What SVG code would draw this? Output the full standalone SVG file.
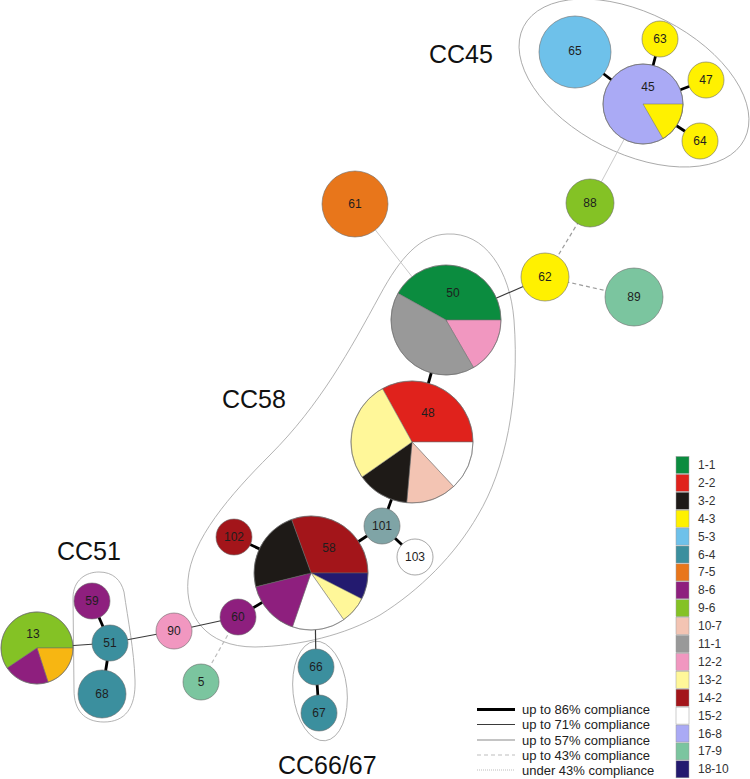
<svg xmlns="http://www.w3.org/2000/svg" width="750" height="779" viewBox="0 0 750 779">
<style>
text{font-family:"Liberation Sans",Arial,sans-serif;fill:#1e1e1e}
.lbl{font-size:12px;text-anchor:middle;dominant-baseline:central}
.cc{font-size:25px;fill:#111}
.leg{font-size:12px;fill:#333;dominant-baseline:central}
.cl{font-size:13px;fill:#222;dominant-baseline:central}
.n{stroke:#6b6b6b;stroke-width:0.6}
.sl{stroke:#6b6b6b;stroke-width:0.5}
.ring{fill:none;stroke:#6b6b6b;stroke-width:0.6}
.hull{fill:none;stroke:#a0a0a0;stroke-width:0.8}
.e86{stroke:#000;stroke-width:2.8;fill:none}
.e71{stroke:#3a3a3a;stroke-width:1.2;fill:none}
.e57{stroke:#8a8a8a;stroke-width:1.2;fill:none}
.e43{stroke:#9c9c9c;stroke-width:1.2;stroke-dasharray:4 3;fill:none}
.e43l{stroke:#bdbdbd;stroke-width:1.2;stroke-dasharray:4 3;fill:none}
.eu{stroke:#c9c9c9;stroke-width:1;fill:none}
.eud{stroke:#bdbdbd;stroke-width:1;stroke-dasharray:1 1;fill:none}
.box{stroke:#9a9a9a;stroke-width:0.5}
</style>

<g id="hulls">
<ellipse class="hull" cx="634" cy="83" rx="124" ry="70" transform="rotate(27 634 83)"/>
<path class="hull" d="M447,234 C485,232 510,270 514,320 C520,400 505,470 478,515 C455,555 420,590 380,615 C345,635 300,646 255,647 C205,647 185,615 188,580 C191,540 230,495 270,455 C320,405 350,350 380,295 C400,258 420,235 447,234 Z"/>
<path class="hull" d="M73,598 C73,580 86,572 99,572 C113,572 121,580 124,592 C128,620 134,650 135,680 C136,708 125,722 104,722 C84,722 74,710 74,690 L73,598 Z"/>
<ellipse class="hull" cx="320" cy="691" rx="27" ry="50" transform="rotate(-6 320 691)"/>
</g>

<g id="cc-labels">
<text class="cc" x="429" y="63">CC45</text>
<text class="cc" x="222" y="408">CC58</text>
<text class="cc" x="57" y="560">CC51</text>
<text class="cc" x="278" y="774">CC66/67</text>
</g>

<g id="connectors">
<line class="e86" x1="575" y1="52" x2="643" y2="104"/>
<line class="e86" x1="660" y1="39" x2="643" y2="104"/>
<line class="e86" x1="706" y1="80" x2="643" y2="104"/>
<line class="e86" x1="700" y1="141" x2="643" y2="104"/>
<line class="eu" x1="643" y1="104" x2="590" y2="203"/>
<line class="e43" x1="590" y1="203" x2="545" y2="277"/>
<line class="e43" x1="545" y1="277" x2="634" y2="297"/>
<line class="e71" x1="545" y1="277" x2="446" y2="320"/>
<line class="eu" x1="355" y1="204" x2="446" y2="320"/>
<line class="e86" x1="446" y1="320" x2="412" y2="442"/>
<line class="e86" x1="412" y1="442" x2="382" y2="526"/>
<line class="e86" x1="382" y1="526" x2="311" y2="573"/>
<line class="e86" x1="382" y1="526" x2="415" y2="557"/>
<line class="e86" x1="234" y1="537" x2="311" y2="573"/>
<line class="e86" x1="238" y1="617" x2="311" y2="573"/>
<line class="e71" x1="174" y1="631" x2="238" y2="617"/>
<line class="e43l" x1="238" y1="617" x2="201" y2="682"/>
<line class="e71" x1="315" y1="600" x2="316" y2="667"/>
<line class="e86" x1="316" y1="667" x2="319" y2="713"/>
<line class="e71" x1="110" y1="643" x2="174" y2="631"/>
<line class="e71" x1="37" y1="648" x2="110" y2="643"/>
<line class="e86" x1="92" y1="601" x2="110" y2="643"/>
<line class="e86" x1="110" y1="643" x2="102" y2="694"/>
</g>

<g id="node-65"><circle class="n" cx="575" cy="52" r="36" fill="#6EC1EA"/><text class="lbl" x="575" y="51">65</text></g>
<g id="node-45">
<circle class="n" cx="643" cy="104" r="40" fill="#AAAAF5"/>
<path class="sl" d="M643,104 L683,104 A40,40 0 0 1 663,138.64 Z" fill="#FFF100"/>
<circle class="ring" cx="643" cy="104" r="40"/>
<text class="lbl" x="648" y="87">45</text>
</g>
<g id="node-63"><circle class="n" cx="660" cy="39" r="18" fill="#FFF100"/><text class="lbl" x="660" y="39">63</text></g>
<g id="node-47"><circle class="n" cx="706" cy="80" r="18" fill="#FFF100"/><text class="lbl" x="706" y="80">47</text></g>
<g id="node-64"><circle class="n" cx="700" cy="141" r="18" fill="#FFF100"/><text class="lbl" x="700" y="141">64</text></g>
<g id="node-88"><circle class="n" cx="590" cy="203" r="24" fill="#84C225"/><text class="lbl" x="590" y="203">88</text></g>
<g id="node-62"><circle class="n" cx="545" cy="277" r="24" fill="#FFF100"/><text class="lbl" x="545" y="277">62</text></g>
<g id="node-89"><circle class="n" cx="634" cy="297" r="29" fill="#7BC59F"/><text class="lbl" x="634" y="297">89</text></g>
<g id="node-61"><circle class="n" cx="355" cy="204" r="33" fill="#E8761B"/><text class="lbl" x="355" y="204">61</text></g>

<g id="node-50">
<path class="sl" d="M446,320 L397.9,293.3 A55,55 0 0 1 501,320 Z" fill="#0B8C3F"/>
<path class="sl" d="M446,320 L501,320 A55,55 0 0 1 473.5,367.6 Z" fill="#F197C0"/>
<path class="sl" d="M446,320 L473.5,367.6 A55,55 0 0 1 397.9,293.3 Z" fill="#999999"/>
<circle class="ring" cx="446" cy="320" r="55"/>
<text class="lbl" x="453" y="293">50</text>
</g>

<g id="node-48">
<path class="sl" d="M412,442 L382.4,388.6 A61,61 0 0 1 473,442 Z" fill="#E0221C"/>
<path class="sl" d="M412,442 L473,442 A61,61 0 0 1 453.6,486.6 Z" fill="#FFFFFF"/>
<path class="sl" d="M412,442 L453.6,486.6 A61,61 0 0 1 406.7,502.8 Z" fill="#F3C4B3"/>
<path class="sl" d="M412,442 L406.7,502.8 A61,61 0 0 1 362,477 Z" fill="#1E1A17"/>
<path class="sl" d="M412,442 L362,477 A61,61 0 0 1 382.4,388.6 Z" fill="#FFF799"/>
<circle class="ring" cx="412" cy="442" r="61"/>
<text class="lbl" x="428" y="413">48</text>
</g>

<g id="node-101"><circle class="n" cx="382" cy="526" r="18" fill="#7FA4A6"/><text class="lbl" x="382" y="526">101</text></g>
<g id="node-103"><circle class="n" cx="415" cy="557" r="18" fill="#FFFFFF"/><text class="lbl" x="415" y="557">103</text></g>
<g id="node-102"><circle class="n" cx="234" cy="537" r="18" fill="#A3151A"/><text class="lbl" x="234" y="537">102</text></g>

<g id="node-58">
<path class="sl" d="M311,573 L291.5,519.4 A57,57 0 0 1 368,573 Z" fill="#A3151A"/>
<path class="sl" d="M311,573 L368,573 A57,57 0 0 1 361.8,598.9 Z" fill="#231A6F"/>
<path class="sl" d="M311,573 L361.8,598.9 A57,57 0 0 1 343.7,619.7 Z" fill="#FFF799"/>
<path class="sl" d="M311,573 L343.7,619.7 A57,57 0 0 1 292.4,626.9 Z" fill="#FFFFFF"/>
<path class="sl" d="M311,573 L292.4,626.9 A57,57 0 0 1 255.7,586.8 Z" fill="#8E1F7E"/>
<path class="sl" d="M311,573 L255.7,586.8 A57,57 0 0 1 291.5,519.4 Z" fill="#1E1A17"/>
<circle class="ring" cx="311" cy="573" r="57"/>
<text class="lbl" x="329" y="548">58</text>
</g>

<g id="node-60"><circle class="n" cx="238" cy="617" r="18" fill="#8E1F7E"/><text class="lbl" x="238" y="617">60</text></g>
<g id="node-90"><circle class="n" cx="174" cy="631" r="18" fill="#F197C0"/><text class="lbl" x="174" y="631">90</text></g>
<g id="node-5"><circle class="n" cx="201" cy="682" r="18" fill="#7BC59F"/><text class="lbl" x="201" y="682">5</text></g>
<g id="node-66"><circle class="n" cx="316" cy="667" r="18" fill="#3B8F9E"/><text class="lbl" x="316" y="667">66</text></g>
<g id="node-67"><circle class="n" cx="319" cy="713" r="18" fill="#3B8F9E"/><text class="lbl" x="319" y="713">67</text></g>
<g id="node-59"><circle class="n" cx="92" cy="601" r="18" fill="#8E1F7E"/><text class="lbl" x="92" y="601">59</text></g>
<g id="node-51"><circle class="n" cx="110" cy="643" r="18" fill="#3B8F9E"/><text class="lbl" x="110" y="643">51</text></g>
<g id="node-68"><circle class="n" cx="102" cy="694" r="24" fill="#3B8F9E"/><text class="lbl" x="102" y="694">68</text></g>

<g id="node-13">
<path class="sl" d="M37,648 L7.2,668.1 A36,36 0 1 1 73,648 Z" fill="#84C225"/>
<path class="sl" d="M37,648 L73,648 A36,36 0 0 1 48.1,682.2 Z" fill="#F7B612"/>
<path class="sl" d="M37,648 L48.1,682.2 A36,36 0 0 1 7.2,668.1 Z" fill="#8E1F7E"/>
<circle class="ring" cx="37" cy="648" r="36"/>
<text class="lbl" x="33" y="634">13</text>
</g>

<g id="legend-colors">
<rect class="box" x="676" y="456.5" width="13" height="17" fill="#0B8C3F"/><text class="leg" x="698" y="465">1-1</text>
<rect class="box" x="676" y="474.4" width="13" height="17" fill="#E0221C"/><text class="leg" x="698" y="482.9">2-2</text>
<rect class="box" x="676" y="492.3" width="13" height="17" fill="#1E1A17"/><text class="leg" x="698" y="500.8">3-2</text>
<rect class="box" x="676" y="510.2" width="13" height="17" fill="#FFF100"/><text class="leg" x="698" y="518.7">4-3</text>
<rect class="box" x="676" y="528.1" width="13" height="17" fill="#6EC1EA"/><text class="leg" x="698" y="536.6">5-3</text>
<rect class="box" x="676" y="546" width="13" height="17" fill="#3B8F9E"/><text class="leg" x="698" y="554.5">6-4</text>
<rect class="box" x="676" y="563.9" width="13" height="17" fill="#E8761B"/><text class="leg" x="698" y="572.4">7-5</text>
<rect class="box" x="676" y="581.8" width="13" height="17" fill="#8E1F7E"/><text class="leg" x="698" y="590.3">8-6</text>
<rect class="box" x="676" y="599.7" width="13" height="17" fill="#84C225"/><text class="leg" x="698" y="608.2">9-6</text>
<rect class="box" x="676" y="617.6" width="13" height="17" fill="#F3C4B3"/><text class="leg" x="698" y="626.1">10-7</text>
<rect class="box" x="676" y="635.5" width="13" height="17" fill="#999999"/><text class="leg" x="698" y="644">11-1</text>
<rect class="box" x="676" y="653.4" width="13" height="17" fill="#F197C0"/><text class="leg" x="698" y="661.9">12-2</text>
<rect class="box" x="676" y="671.3" width="13" height="17" fill="#FFF799"/><text class="leg" x="698" y="679.8">13-2</text>
<rect class="box" x="676" y="689.2" width="13" height="17" fill="#A3151A"/><text class="leg" x="698" y="697.7">14-2</text>
<rect class="box" x="676" y="707.1" width="13" height="17" fill="#FFFFFF"/><text class="leg" x="698" y="715.6">15-2</text>
<rect class="box" x="676" y="725" width="13" height="17" fill="#AAAAF5"/><text class="leg" x="698" y="733.5">16-8</text>
<rect class="box" x="676" y="742.9" width="13" height="17" fill="#7BC59F"/><text class="leg" x="698" y="751.4">17-9</text>
<rect class="box" x="676" y="760.8" width="13" height="17" fill="#231A6F"/><text class="leg" x="698" y="769.3">18-10</text>
</g>

<g id="legend-lines">
<line class="e86" x1="477" y1="709.5" x2="515" y2="709.5" stroke-width="2"/><text class="cl" x="522" y="709">up to 86% compliance</text>
<line class="e71" x1="477" y1="724.5" x2="515" y2="724.5"/><text class="cl" x="522" y="724">up to 71% compliance</text>
<line class="e57" x1="477" y1="740" x2="515" y2="740"/><text class="cl" x="522" y="740">up to 57% compliance</text>
<line class="e43l" x1="477" y1="755" x2="515" y2="755" stroke="#c9c9c9"/><text class="cl" x="522" y="755">up to 43% compliance</text>
<line class="eud" x1="477" y1="770" x2="515" y2="770"/><text class="cl" x="522" y="770">under  43% compliance</text>
</g>
</svg>
